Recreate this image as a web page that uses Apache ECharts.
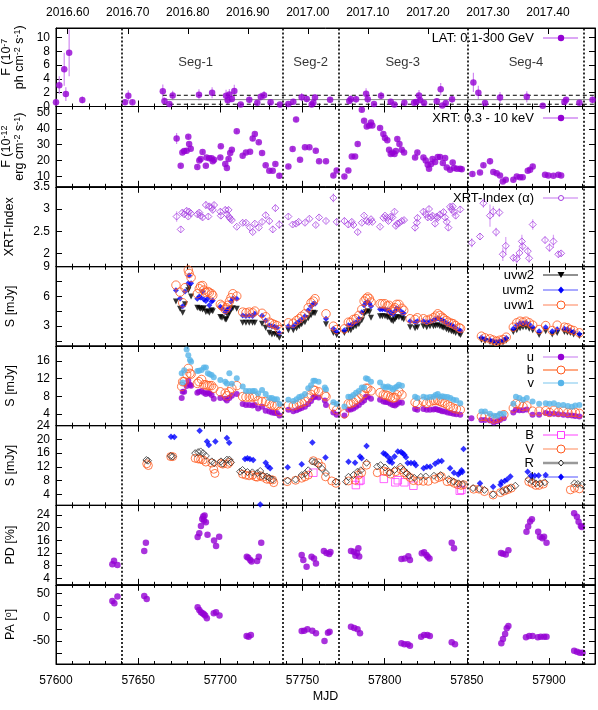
<!DOCTYPE html>
<html>
<head>
<meta charset="utf-8">
<script src="https://cdn.jsdelivr.net/npm/echarts@6/dist/echarts.min.js"></script>
<style>
  html, body { margin: 0; padding: 0; background: #fff; }
  #chart { width: 598px; height: 710px; }
</style>
</head>
<body>
<div id="chart"></div>
<script>
// ---- data ----
const xMin = 57600, xMax = 57928;
const segBounds = [57640, 57738, 57772, 57850.5, 57921];
const segNames = ['Seg-1', 'Seg-2', 'Seg-3', 'Seg-4'];
const segLabelMjd = [57685, 57755, 57811, 57886];
const yearTicks = [2016.6, 2016.7, 2016.8, 2016.9, 2017.0, 2017.1, 2017.2, 2017.3, 2017.4];

// LAT 0.1-300 GeV: [MJD, flux, err]
const latPoints = [
  [57600, 0.62, 0.5], [57602, 3.1, 1.3], [57605, 5.4, 2.4], [57606, 1.8, 1.0], [57608, 7.8, 3.4],
  [57616, 0.96, 0.5], [57642, 0.6, 0.4], [57644, 1.55, 0.8], [57646.5, 0.6, 0.3], [57665, 2.2, 1.0],
  [57666, 0.8, 0.5], [57669, 0.35, 0.2], [57671, 1.6, 0.7], [57687, 1.7, 0.8], [57695, 2.0, 0.8],
  [57703.5, 1.55, 0.9], [57704.5, 0.9, 0.6], [57705.5, 1.75, 0.8], [57707, 1.1, 0.5], [57708.5, 2.25, 0.9],
  [57712.4, 0.3, 0.2], [57717.6, 0.97, 0.5], [57722.5, 0.55, 0.3], [57724.6, 1.4, 0.6], [57726.6, 1.65, 0.6],
  [57730.6, 0.6, 0.3], [57736.3, 0.3, 0.2], [57741.4, 0.35, 0.2], [57744.4, 0.7, 0.4], [57749.5, 1.35, 0.6],
  [57752.6, 1.1, 0.5], [57755.6, 0.3, 0.2], [57756.6, 0.55, 0.3], [57757.6, 1.3, 0.5], [57766.8, 0.97, 0.4],
  [57778.5, 0.8, 0.4], [57779.4, 1.1, 0.5], [57782.6, 1.05, 0.5], [57788.7, 1.85, 0.8], [57789.7, 1.05, 0.5],
  [57793.5, 0.35, 0.2], [57797.8, 1.55, 0.6], [57803.7, 0.7, 0.4], [57805.9, 0.3, 0.2], [57812, 0.55, 0.3],
  [57817.9, 0.55, 0.3], [57819.1, 0.65, 0.3], [57820.9, 1.6, 0.8], [57821.6, 0.9, 0.4], [57824, 0.5, 0.3],
  [57831.7, 0.75, 0.4], [57834.1, 2.5, 0.9], [57835.1, 0.15, 0.2], [57837.2, 0.5, 0.3], [57841, 1.05, 0.5],
  [57854, 3.5, 1.4], [57857, 2.0, 1.0], [57861.1, 0.5, 0.3], [57870.2, 1.3, 0.8], [57886.5, 1.4, 0.8],
  [57896.2, 0.1, 0.2], [57909.4, 0.65, 0.3], [57910.4, 0.97, 0.4], [57918.5, 0.55, 0.3], [57926.5, 0.97, 0.5]
];
// LAT mean and +-1 sigma lines
const latLevels = [1.63, 1.0, 0.33];
const latLevelsFrom = 57665;

// XRT 0.3-10 keV flux: [MJD, flux, err]
const xrtFlux = [
  [57673.4, 33.9, 3.5], [57675.9, 16.8, 1], [57676.9, 25.1, 1], [57678, 26.0, 1], [57679.5, 26.2, 1],
  [57680.5, 35.0, 1.2], [57681, 30.4, 1.2], [57682, 27.5, 1], [57686, 15.9, 0.8], [57687.2, 20.1, 0.8],
  [57688, 21.0, 0.8], [57689.2, 25.4, 1], [57691.2, 16.8, 0.8], [57691.6, 22.0, 0.8], [57693.3, 21.4, 0.8],
  [57694.7, 21.4, 0.8], [57695.4, 19.5, 0.8], [57696.2, 20.5, 0.8], [57700, 22.0, 0.8], [57700.3, 29.0, 1],
  [57703, 17.8, 0.8], [57704, 15.3, 0.8], [57705, 21.0, 0.8], [57706, 24.8, 1], [57707, 26.8, 1],
  [57710, 38.4, 1.2], [57713.6, 23.0, 1], [57715.6, 25.1, 1], [57718.1, 25.6, 1], [57719.7, 33.8, 1.5],
  [57721, 36.7, 1.2], [57723.4, 31.5, 1], [57725.4, 24.8, 1], [57727.6, 17.0, 0.8], [57729.8, 13.6, 0.8],
  [57731.9, 13.6, 0.8], [57733.5, 17.8, 0.8], [57735.9, 10.4, 1.5], [57741.4, 16.3, 0.8], [57744, 27.3, 1],
  [57746.1, 45.8, 1.5], [57748.5, 20.5, 0.8], [57751.5, 28.3, 1], [57754.2, 28.3, 1], [57758.1, 26.2, 1],
  [57760.1, 19.5, 0.8], [57764.3, 19.5, 0.8], [57768.8, 10.6, 0.8], [57770.8, 13.8, 1], [57775.5, 10.0, 0.8],
  [57777.9, 13.8, 0.8], [57780, 22.6, 1], [57782, 22.6, 1], [57783.6, 30.4, 1], [57786.1, 52.0, 1.5],
  [57787.5, 45.1, 1.2], [57789.1, 41.5, 1.2], [57790.7, 42.0, 1.2], [57791.7, 44.0, 1.2], [57792.5, 42.0, 1.2],
  [57797.2, 40.5, 1.2], [57799.2, 36.7, 1.2], [57800.2, 34.2, 1], [57801.6, 32.7, 1], [57802.7, 26.8, 1],
  [57803.7, 24.1, 0.8], [57804.7, 24.9, 0.8], [57806, 24.1, 0.8], [57806.8, 26.0, 0.8], [57807.7, 33.6, 1],
  [57809, 30.4, 1], [57810.4, 26.8, 1], [57811.8, 25.0, 0.8], [57818.5, 22.0, 1], [57819.9, 25.1, 1],
  [57823.6, 22.0, 0.8], [57825, 20.0, 0.8], [57826.2, 17.4, 0.8], [57827, 14.9, 0.8], [57828.3, 17.8, 0.8],
  [57829.1, 21.0, 0.8], [57830.7, 19.1, 0.8], [57832.3, 22.2, 0.8], [57833.7, 22.2, 0.8], [57835.4, 18.5, 0.8],
  [57836.8, 21.6, 0.8], [57837.8, 15.7, 0.8], [57839.8, 14.2, 0.8], [57841.4, 18.8, 0.8], [57842.2, 15.3, 0.8],
  [57843.9, 14.9, 0.8], [57845.9, 14.9, 0.8], [57846.9, 14.6, 0.8], [57853.4, 11.5, 1], [57858, 12.5, 1],
  [57860.1, 17.0, 1.2], [57864.1, 19.5, 2.0], [57866.1, 12.8, 0.8], [57868.2, 12.1, 0.8], [57870.2, 10.6, 0.8],
  [57871.9, 6.8, 0.8], [57873.7, 7.9, 0.8], [57878.3, 7.9, 0.8], [57880.4, 10.0, 0.8], [57882.4, 9.5, 0.8],
  [57884, 9.5, 0.8], [57887.1, 13.6, 1], [57888.5, 14.2, 1], [57890.1, 16.3, 1.5], [57897.6, 11.1, 0.8],
  [57899.6, 10.6, 0.8], [57902.7, 10.4, 0.8], [57905.7, 11.1, 0.8], [57907.4, 10.6, 0.8]
];

// XRT photon index: [MJD, alpha, err]
const xrtIndex = [
  [57673.4, 2.83, 0.12], [57675.9, 2.54, 0.07], [57676.9, 2.92, 0.06], [57678, 2.88, 0.06], [57679.5, 2.96, 0.06],
  [57680.5, 2.83, 0.05], [57681, 2.94, 0.05], [57682, 2.9, 0.05], [57686, 2.88, 0.06], [57687.2, 2.92, 0.06],
  [57688, 2.85, 0.06], [57689.2, 2.81, 0.06], [57691.2, 3.09, 0.09], [57692.7, 2.83, 0.07], [57693.3, 3.06, 0.07],
  [57694.7, 3.03, 0.06], [57695.4, 2.98, 0.06], [57696.2, 3.09, 0.06], [57700, 2.94, 0.07], [57700.3, 2.85, 0.07],
  [57703, 2.98, 0.07], [57704, 2.88, 0.08], [57705, 2.98, 0.06], [57705.4, 2.82, 0.06], [57706, 2.78, 0.05],
  [57707, 2.75, 0.05], [57710, 2.6, 0.04], [57713.6, 2.69, 0.05], [57715.6, 2.69, 0.05], [57718.1, 2.58, 0.05],
  [57719.7, 2.48, 0.05], [57721, 2.67, 0.05], [57723.4, 2.58, 0.05], [57725.4, 2.71, 0.06], [57727.6, 2.86, 0.07],
  [57729.8, 2.73, 0.08], [57731.9, 2.54, 0.08], [57733.5, 3.02, 0.08], [57735.9, 2.65, 0.1], [57741.4, 2.83, 0.07],
  [57744, 2.65, 0.05], [57746.1, 2.67, 0.04], [57747.7, 2.71, 0.05], [57751.5, 2.69, 0.05], [57754.2, 2.78, 0.05],
  [57758.1, 2.64, 0.05], [57760.1, 2.81, 0.05], [57764.3, 2.73, 0.05], [57768.8, 3.25, 0.1], [57770.8, 2.71, 0.08],
  [57775.5, 2.73, 0.08], [57777.9, 2.65, 0.07], [57780, 2.71, 0.06], [57781, 2.64, 0.06], [57783.6, 2.48, 0.06],
  [57786.1, 2.69, 0.04], [57787.5, 2.85, 0.04], [57789.1, 2.73, 0.04], [57790.3, 2.71, 0.04], [57791.7, 2.77, 0.04],
  [57792.5, 2.71, 0.04], [57797.2, 2.6, 0.04], [57799.2, 2.8, 0.04], [57800.2, 2.85, 0.04], [57801.6, 2.8, 0.05],
  [57802.3, 2.73, 0.05], [57803.7, 2.83, 0.05], [57804.7, 2.81, 0.05], [57806, 2.94, 0.05], [57806.8, 2.62, 0.06],
  [57807.7, 2.67, 0.05], [57809, 2.69, 0.05], [57810.4, 2.73, 0.05], [57811.8, 2.75, 0.05], [57818.5, 2.58, 0.08],
  [57819.6, 2.69, 0.06], [57820, 2.8, 0.06], [57823.6, 2.94, 0.07], [57825, 2.88, 0.07], [57826.2, 2.81, 0.07],
  [57827, 3.0, 0.07], [57828.3, 2.81, 0.06], [57829.1, 2.85, 0.06], [57830.7, 2.67, 0.06], [57831.7, 2.83, 0.06],
  [57832.3, 2.8, 0.06], [57833.7, 2.88, 0.06], [57835.8, 2.93, 0.06], [57836.8, 2.81, 0.06], [57837.8, 2.71, 0.06],
  [57838.8, 2.58, 0.07], [57839.8, 3.05, 0.07], [57840.8, 2.99, 0.07], [57841.4, 3.06, 0.07], [57842.2, 2.93, 0.07],
  [57843.2, 2.85, 0.07], [57846, 2.99, 0.08], [57853, 2.24, 0.1], [57858, 2.38, 0.08], [57860.1, 3.13, 0.1],
  [57864.1, 2.85, 0.25], [57866.1, 2.94, 0.12], [57867.8, 2.48, 0.1], [57869.8, 2.92, 0.1], [57871.9, 1.98, 0.15],
  [57873.7, 2.17, 0.2], [57878.3, 1.9, 0.08], [57880.4, 1.88, 0.1], [57882, 2.01, 0.12], [57883.5, 2.27, 0.15],
  [57884, 2.16, 0.1], [57887.1, 2.05, 0.1], [57887.9, 1.89, 0.1], [57890.1, 2.65, 0.12], [57897.6, 2.3, 0.08],
  [57900.3, 2.13, 0.1], [57902.7, 2.27, 0.15], [57905.7, 1.98, 0.07], [57907.4, 2.0, 0.06]
];

// UVOT UV bands: [MJD, uvw2, uvm2, uvw1] (mJy)
const uvotUV = [
  [57673, 5.5, 6.63, 7.14], [57675.5, 4.76, 5.8, 6.43], [57677.1, 4.35, 5.0, 5.36], [57678.5, 5.2, 6.5, 6.88],
  [57680.5, 6.63, 7.33, 8.66], [57681, 6.9, 8.1, 8.32], [57682.2, 6.0, 7.33, 7.9], [57686, 4.86, 5.77, 6.27],
  [57687.2, 4.8, 6.0, 6.78], [57688, 4.76, 5.9, 7.04], [57689.2, 4.69, 6.5, 7.1], [57690, 4.8, 5.7, 6.64],
  [57691.2, 4.42, 5.53, 6.4], [57692.4, 4.5, 5.8, 6.5], [57693.3, 4.35, 5.1, 6.4], [57694.7, 4.6, 5.5, 6.27],
  [57695.4, 4.5, 5.6, 6.1], [57700, 3.92, 4.97, 5.2], [57701, 3.85, 4.8, 5.03], [57703, 3.68, 4.42, 4.69],
  [57703.7, 3.7, 4.6, 4.86], [57704.5, 4.08, 4.7, 5.1], [57705.5, 4.3, 4.77, 5.5], [57706.5, 4.69, 5.5, 5.87],
  [57707.6, 4.8, 5.8, 6.27], [57710, 4.76, 5.77, 6.03], [57713.6, 3.34, 4.08, 4.42], [57715.6, 3.34, 4.02, 4.35],
  [57717.6, 3.34, 4.05, 4.42], [57719.6, 3.34, 4.02, 4.35], [57721, 3.34, 4.25, 4.52], [57725.4, 3.24, 4.05, 4.3],
  [57727.6, 2.84, 3.57, 3.95], [57729.8, 2.33, 3.06, 3.4], [57731.4, 2.16, 3.0, 3.27], [57733, 2.2, 2.95, 3.16],
  [57734.5, 2.1, 2.85, 3.06], [57735.9, 1.82, 2.3, 2.66],
  [57741.4, 2.6, 3.0, 3.34], [57744.4, 2.6, 3.0, 3.3], [57746.4, 2.8, 3.3, 3.57], [57748, 3.0, 3.5, 3.75],
  [57749.5, 3.2, 3.7, 4.0], [57751.5, 3.4, 4.0, 4.25], [57753.5, 3.8, 4.6, 4.86], [57755.2, 4.1, 5.0, 5.36],
  [57756.6, 4.35, 5.25, 5.53], [57757.6, 4.3, 5.25, 5.77], [57764.3, 3.2, 3.75, 4.25], [57768.8, 2.3, 2.75, 3.0],
  [57770.8, 2.1, 2.45, 2.66],
  [57775.5, 2.3, 2.6, 2.73], [57777.9, 2.6, 3.1, 3.4], [57779.4, 2.6, 3.1, 3.4], [57781, 2.9, 3.3, 3.68],
  [57782.6, 3.0, 3.4, 3.75], [57784.3, 3.2, 3.75, 4.08], [57786.1, 3.6, 4.4, 4.69], [57787.5, 4.2, 5.1, 5.53],
  [57788.6, 4.4, 5.4, 5.77], [57789.7, 4.5, 5.45, 5.94], [57790.7, 4.4, 5.3, 5.77], [57791.7, 3.85, 5.0, 5.43],
  [57797.2, 4.0, 4.7, 5.26], [57798.6, 4.0, 4.7, 5.26], [57800.2, 4.0, 4.7, 5.26], [57801.6, 3.9, 4.6, 5.03],
  [57802.7, 3.9, 4.6, 5.1], [57804, 3.6, 4.3, 4.52], [57805.2, 3.5, 4.2, 4.7], [57806.3, 3.7, 4.5, 4.86],
  [57807.3, 3.9, 4.8, 5.2], [57808.7, 3.9, 4.7, 5.2], [57810.5, 3.8, 4.4, 4.8], [57811.6, 3.7, 4.3, 4.6],
  [57815.5, 2.9, 3.5, 3.75], [57818.5, 2.8, 3.4, 3.68], [57819.9, 2.9, 3.5, 3.85], [57823.6, 3.0, 3.5, 3.75],
  [57825.6, 2.9, 3.4, 3.6], [57827.6, 3.0, 3.5, 3.7], [57829.7, 3.0, 3.6, 3.85], [57831, 3.05, 3.7, 4.02],
  [57832.3, 3.1, 3.8, 4.25], [57833.6, 3.0, 3.7, 4.08], [57835, 2.9, 3.6, 3.9], [57836, 2.85, 3.5, 3.75],
  [57837.6, 2.7, 3.3, 3.57], [57839, 2.6, 3.2, 3.4], [57840.6, 2.5, 3.1, 3.3], [57841.8, 2.45, 3.0, 3.24],
  [57843.2, 2.3, 2.85, 3.06], [57845.3, 2.2, 2.6, 2.84], [57846.2, 2.1, 2.55, 2.77],
  [57858.9, 1.6, 1.85, 1.99], [57861.1, 1.5, 1.7, 1.82], [57864.1, 1.4, 1.6, 1.72], [57866, 1.3, 1.5, 1.6],
  [57868, 1.25, 1.4, 1.48], [57870, 1.3, 1.5, 1.58], [57872, 1.35, 1.55, 1.65], [57874, 1.55, 1.8, 1.89],
  [57878.3, 2.4, 2.75, 2.9], [57880.4, 2.6, 3.1, 3.34], [57882.4, 2.8, 3.3, 3.5], [57884.2, 2.9, 3.3, 3.4],
  [57886, 2.9, 3.35, 3.5], [57888, 2.75, 3.2, 3.34], [57890.1, 2.6, 2.9, 3.1], [57894, 2.1, 2.5, 2.66],
  [57898, 2.5, 2.9, 3.06], [57902, 2.15, 2.5, 2.56], [57905, 2.3, 2.7, 3.1], [57909.4, 2.4, 2.75, 2.9],
  [57911.2, 2.35, 2.7, 2.84], [57913, 2.3, 2.55, 2.66], [57915, 2.15, 2.4, 2.56], [57918.5, 2.0, 2.2, 2.33]
];

// UVOT optical bands: [MJD, u, b, v] (mJy)
const uvotOpt = [
  [57676.5, 7.6, 10.2, 13.2], [57677.1, 9.0, 11.3, 11.1], [57678, 9.0, 11.3, 13.9], [57679.5, 10.3, 13.0, 18.6],
  [57680.5, 11.5, 14.3, 17.3], [57681.5, 10.6, 13.2, 16.2], [57682.2, 10.4, 13.0, 15.8], [57686, 8.8, 10.9, 13.7],
  [57687, 9.0, 11.3, 13.8], [57688.6, 9.2, 11.8, 13.95], [57690, 8.8, 10.6, 14.5], [57691.2, 8.5, 10.6, 14.5],
  [57692.4, 8.8, 10.4, 13.2], [57693.5, 8.6, 10.4, 13.0], [57694.7, 8.3, 10.4, 12.8], [57696, 7.4, 9.8, 12.3],
  [57700, 7.6, 9.0, 11.7], [57703, 7.4, 8.7, 11.3], [57704, 7.0, 8.1, 10.9], [57705.5, 7.6, 9.0, 13.2],
  [57707, 8.1, 9.8, 10.8], [57710, 8.5, 10.4, 12.1], [57713.6, 6.2, 7.9, 10.2], [57715.6, 6.0, 7.8, 9.2],
  [57717.6, 6.0, 7.8, 9.2], [57719.6, 5.9, 7.8, 9.2], [57721, 6.0, 7.9, 9.2], [57723, 5.2, 7.0, 8.6],
  [57725.4, 5.6, 6.8, 9.4], [57727.6, 4.7, 6.8, 8.5], [57729.8, 4.5, 6.3, 7.6], [57731.4, 4.3, 6.0, 7.6],
  [57733, 4.2, 5.9, 7.3], [57734.5, 4.2, 5.9, 7.3], [57736, 3.6, 4.5, 6.2],
  [57741.4, 4.9, 5.9, 7.2], [57744.4, 4.6, 5.8, 6.9], [57746.4, 4.8, 6.0, 7.3], [57748, 5.1, 6.3, 7.8],
  [57749.5, 5.3, 6.5, 8.0], [57751.5, 5.6, 6.8, 8.5], [57753.5, 6.2, 7.6, 9.8], [57755.2, 6.9, 8.4, 10.5],
  [57756.6, 7.7, 9.4, 11.5], [57757.6, 7.9, 9.3, 11.5], [57759.8, 7.7, 9.0, 11.3], [57763.6, 7.0, 8.2, 9.95],
  [57764.3, 6.0, 7.9, 9.5], [57768.8, 4.3, 5.6, 6.6], [57770.8, 3.8, 4.9, 6.2],
  [57775.5, 3.6, 4.0, 5.65], [57777.9, 4.9, 6.3, 7.9], [57779.4, 5.0, 6.3, 7.9], [57781, 5.2, 6.6, 8.3],
  [57782.6, 5.6, 7.2, 8.8], [57784.3, 6.0, 7.6, 9.2], [57786.1, 6.6, 8.3, 9.95], [57787.5, 7.0, 8.6, 10.0],
  [57788.6, 7.9, 9.8, 12.1], [57789.7, 7.9, 9.8, 11.9], [57791.7, 7.4, 9.2, 11.3], [57797.2, 7.2, 8.8, 11.1],
  [57799.2, 6.8, 8.3, 10.2], [57800.6, 6.7, 8.3, 9.95], [57802, 6.6, 8.1, 10.2], [57803.5, 6.3, 7.8, 9.9],
  [57805, 6.0, 7.6, 9.5], [57806.3, 5.9, 7.7, 9.9], [57807.5, 6.2, 8.3, 10.2], [57808.7, 6.6, 9.0, 10.6],
  [57810.5, 6.5, 8.3, 10.4], [57818.5, 5.1, 6.6, 7.9], [57819.9, 4.9, 6.2, 7.6], [57823.6, 5.1, 6.8, 7.9],
  [57825.6, 4.9, 6.4, 7.7], [57827.6, 4.9, 6.7, 7.8], [57829.7, 5.0, 7.0, 7.9], [57831, 5.1, 7.0, 8.3],
  [57832.3, 4.9, 7.1, 8.5], [57833.6, 4.8, 6.8, 7.9], [57835, 4.6, 6.6, 8.0], [57836.6, 4.5, 6.4, 7.9],
  [57838.3, 4.3, 6.0, 7.8], [57840, 4.2, 5.65, 7.6], [57841.8, 4.0, 5.3, 7.2], [57843.6, 3.9, 5.1, 7.1],
  [57846, 3.8, 4.9, 6.4],
  [57852.8, 3.0, null, null], [57858.9, 2.6, 3.4, 4.5], [57861.1, 2.6, 3.4, 4.5], [57864.1, 2.5, 3.0, 4.0],
  [57866.4, 2.0, 2.8, 3.55], [57868.5, 2.3, 3.0, 3.55], [57870.2, 2.6, 3.3, 4.0], [57872.5, 3.0, 3.8, 4.0],
  [57878.3, 4.3, 5.3, 6.3], [57879.9, 4.9, 6.3, 7.9], [57882, 4.8, 6.2, 7.6], [57884.2, 4.8, 5.65, 7.2],
  [57886.5, 5.0, 5.8, 7.6], [57890, 3.8, 4.6, 6.8], [57894, 3.8, 4.6, 6.3], [57898, 4.2, 4.7, 6.4],
  [57900.3, 4.0, 4.3, 6.3], [57903, 4.0, 4.8, 6.4], [57905.7, 3.9, 4.4, 6.0], [57908.7, 3.8, 4.6, 6.0],
  [57911.5, 3.7, 4.3, 5.8], [57914, 3.6, 4.3, 5.6], [57916, 3.5, 4.3, 5.9], [57918.5, 3.4, 4.1, 6.0]
];

// ground based B, V, R, I: [MJD, mJy]
const bandB = [
  [57756.6, 10.3], [57782.5, 6.7], [57784.5, 7.9], [57785.3, 8.1], [57799.5, 8.5], [57806.5, 7.5],
  [57808, 8.1], [57812, 7.5], [57817.5, 6.5], [57845.7, 5.05], [57846.7, 5.3]
];
const bandV = [
  [57655.2, 12.9], [57656.2, 12.4], [57669.8, 15.0], [57671, 15.0], [57684.7, 14.5], [57686.5, 14.3],
  [57688, 14.2], [57689.5, 14.0], [57691.2, 13.4], [57694.8, 13.1], [57696, 11.3], [57696.7, 10.1],
  [57700.4, 13.1], [57701.5, 12.8], [57704.5, 12.8], [57705.5, 13.3], [57713.5, 9.9], [57715.5, 9.6],
  [57717.5, 9.4], [57719.5, 9.6], [57721.5, 9.1], [57722.5, 9.0], [57724.5, 9.4], [57726, 9.0],
  [57728.3, 8.4], [57730.3, 8.3], [57731.8, 8.2], [57732.5, 7.4], [57740.7, 7.7], [57745.8, 8.1],
  [57749.5, 8.7], [57751.5, 9.1], [57753.5, 9.6], [57756.6, 13.8], [57759.6, 13.2], [57761.6, 12.1],
  [57764, 9.1], [57767.8, 7.9], [57770.4, 7.2], [57778, 7.9], [57782, 8.1], [57784, 9.6],
  [57786, 10.3], [57789, 12.5], [57795.5, 10.3], [57799.5, 10.8], [57801.5, 10.5], [57803.5, 9.9],
  [57806.8, 10.6], [57810, 11.2], [57811.8, 10.3], [57813.5, 9.6], [57815.5, 8.9], [57817.5, 8.0],
  [57820.5, 7.9], [57823.5, 7.8], [57826.5, 7.8], [57830.5, 8.4], [57833, 8.9], [57834.5, 9.2],
  [57838, 7.7], [57840.5, 7.7], [57842.5, 7.2], [57844.5, 6.8], [57846.5, 6.6], [57848, 6.8],
  [57854.2, 5.5], [57857.5, 5.5], [57860.7, 4.8], [57866, 3.8], [57870.5, 4.5], [57873, 5.0],
  [57875, 5.4], [57877, 5.8], [57887.7, 7.7], [57889.7, 7.2], [57892, 6.6], [57894, 6.6],
  [57896.6, 7.0], [57913, 5.3], [57915.5, 5.8], [57918.5, 5.6]
];
const bandR = [
  [57655, 14.0], [57656, 13.8], [57669.8, 15.2], [57671, 15.0], [57684.7, 16.0], [57686.5, 16.3],
  [57688, 16.5], [57689.5, 16.0], [57691.2, 15.2], [57694.8, 13.6], [57696.3, 13.1], [57700.4, 13.6],
  [57701.5, 12.9], [57704, 14.1], [57705.5, 14.1], [57706.5, 13.3], [57712, 10.6], [57713.5, 11.1],
  [57716.5, 10.5], [57719.5, 10.4], [57722.5, 10.2], [57724.3, 10.8], [57726, 9.4], [57728.3, 9.2],
  [57729.8, 8.8], [57731.8, 8.3], [57741, 8.0], [57745.8, 8.3], [57749.5, 9.6], [57751.5, 10.0],
  [57753.5, 11.0], [57756, 13.6], [57757.6, 13.4], [57759.6, 12.6], [57762, 11.4], [57764.3, 10.2],
  [57770.4, 7.7], [57776.5, 7.7], [57778, 9.1], [57781, 9.6], [57783.5, 10.6], [57785.5, 11.0],
  [57789, 13.2], [57795.5, 12.1], [57797.5, 12.5], [57800.2, 11.8], [57803, 10.3], [57806, 11.1],
  [57809.5, 12.1], [57811.5, 11.1], [57813.5, 10.1], [57815, 9.4], [57818, 8.8], [57822, 9.1],
  [57825, 9.2], [57830, 9.4], [57834, 9.6], [57839, 8.4], [57842, 7.7], [57845, 7.2],
  [57847.6, 7.0], [57853.8, 5.8], [57857.5, 5.6], [57860.7, 5.3], [57866, 4.0], [57871.5, 4.9],
  [57874, 5.3], [57876.5, 5.8], [57879.5, 6.5], [57887.7, 8.4], [57889.7, 7.9], [57892, 7.2],
  [57894.5, 7.2], [57897.5, 7.5], [57915.5, 7.2], [57917.5, 7.0], [57920, 6.8]
];
const bandI = [
  [57670, 20.8], [57672, 20.7], [57687.4, 22.5], [57691.9, 19.4], [57693, 18.4], [57697, 19.4],
  [57704, 20.4], [57705.4, 19.0], [57715, 14.3], [57716.5, 14.5], [57718, 14.3], [57720, 14.0],
  [57724.3, 1.0], [57727.6, 13.2], [57728.8, 12.2], [57730.3, 11.6], [57741, 11.9], [57749.5, 12.8],
  [57756, 19.1], [57764, 14.7], [57778, 13.5], [57782, 13.2], [57785, 15.0], [57786, 14.5],
  [57789, 18.1], [57799.3, 16.0], [57800.5, 15.7], [57801.8, 15.0], [57802.8, 13.6], [57803.6, 14.2],
  [57804.5, 13.2], [57806, 15.0], [57808, 16.5], [57810, 16.3], [57811, 16.0], [57812, 15.5],
  [57813, 14.8], [57814, 13.1], [57816, 13.1], [57818, 13.1], [57819, 12.5], [57823.7, 11.6],
  [57825.7, 12.0], [57827.7, 12.0], [57830.7, 12.9], [57832.7, 13.6], [57834.7, 13.7], [57839.8, 11.6],
  [57842.2, 10.3], [57844.8, 9.8], [57845.8, 10.3], [57846.8, 11.0], [57847.3, 10.5], [57848, 17.2],
  [57858, 7.2], [57866, 6.2], [57870.5, 6.8], [57871, 7.6], [57873, 7.9], [57874.5, 8.3],
  [57876.5, 9.2], [57887, 10.6], [57889, 9.4], [57891.3, 9.4], [57893.7, 9.5], [57898, 9.6]
];

// optical polarization: degree [%] and angle [deg]
const polPD = [
  [57634.3, 8.5], [57635.3, 9.6], [57637.4, 8.2], [57653.7, 12.6], [57654.7, 15.2], [57686.2, 17.0],
  [57687.2, 18.2], [57688.2, 20.5], [57689, 22.7], [57689.6, 23.5], [57690, 22.2], [57690.4, 23.8],
  [57691.2, 21.7], [57692.2, 17.7], [57696.2, 15.9], [57697.4, 14.2], [57699.3, 17.1], [57716.1, 10.8],
  [57717, 10.5], [57718.2, 9.8], [57719, 9.3], [57722.4, 9.5], [57723.4, 10.8], [57724.9, 15.2],
  [57749.5, 11.4], [57750.5, 9.8], [57752.5, 7.7], [57755.5, 10.8], [57757, 10.3], [57758.2, 8.7],
  [57763, 12.6], [57764.6, 12.0], [57766.3, 11.7], [57767, 12.3], [57779.5, 12.6], [57781.2, 12.4],
  [57782.2, 11.1], [57783.2, 12.0], [57784, 13.5], [57784.5, 10.9], [57810.2, 10.1], [57812.2, 10.3],
  [57814.4, 11.0], [57815.4, 9.8], [57822.6, 11.9], [57824, 12.2], [57825.4, 11.4], [57826.2, 10.8],
  [57827.3, 10.3], [57840.8, 15.2], [57842.2, 13.5], [57870.8, 12.0], [57872, 11.8], [57873.7, 11.5],
  [57875.3, 12.9], [57886.3, 18.7], [57887.3, 20.3], [57888.5, 21.9], [57889.6, 22.6], [57893.4, 18.7],
  [57894.5, 17.1], [57896, 16.6], [57897, 17.1], [57898.5, 15.2], [57915.3, 24.5], [57917, 23.4],
  [57918, 21.8], [57919.4, 20.5], [57920, 20.2]
];
const polPA = [
  [57634.3, 34.2], [57635.5, 29.4], [57637.4, 43.3], [57653.7, 44.7], [57655.2, 38.4], [57686.2, 21.0],
  [57687.2, 15.3], [57688.2, 10.5], [57689.2, 8.4], [57690, 6.3], [57690.8, 3.4], [57691.8, -2.1],
  [57696, 8.4], [57697.4, 10.5], [57699.5, 3.4], [57716, -39.3], [57717.2, -40.7], [57718.6, -37.2],
  [57749.5, -28.8], [57751, -28.1], [57753, -25.2], [57756, -28.1], [57758.2, -33.6], [57763.4, -49.8],
  [57765.5, -32.4], [57766.5, -30.5], [57779.5, -19.7], [57781.5, -22.6], [57783.5, -25.2], [57785, -33.6],
  [57810.2, -54.6], [57812, -56.7], [57814, -56.7], [57815.4, -59.6], [57822.2, -40.7], [57824, -37.2],
  [57826, -37.2], [57827.5, -39.3], [57840.8, -52.5], [57842.8, -56.7], [57871, -54.6], [57872, -45.6],
  [57873.3, -35.1], [57874.3, -23.1], [57875.3, -18.3], [57886, -42.0], [57888, -39.3], [57890, -39.3],
  [57893.2, -42.0], [57895, -40.7], [57897, -40.7], [57898.5, -40.7], [57915.3, -70.2], [57917, -72.3],
  [57918.7, -74.4], [57920.4, -74.4]
];

// ---- layout of the eight stacked panels ----
const FONT = 'Liberation Sans, Arial, sans-serif';
const panels = [
  { top: 28, bottom: 106.5, min: 0, max: 11.4, ticks: [0, 2, 4, 6, 8, 10], labels: [0, 2, 4, 6, 8, 10],
    name: '{n|F (10}{s|-7}\n{n|ph cm}{s|-2}{n| s}{s|-1}{n|)}', gap: 29, pad: [0, 0, 0, 20] },
  { top: 106.5, bottom: 186.8, min: 3.5, max: 54, ticks: [10, 20, 30, 40, 50], labels: [10, 20, 30, 40, 50],
    name: '{n|F (10}{s|-12}\n{n|erg cm}{s|-2}{n| s}{s|-1}{n|)}', gap: 29, pad: 0 },
  { top: 186.8, bottom: 266.7, min: 1.7, max: 3.5, ticks: [2, 2.5, 3, 3.5], labels: [2, 2.5, 3, 3.5],
    name: '{n|XRT-Index}', gap: 40, pad: 0 },
  { top: 266.7, bottom: 346, min: 1, max: 9, ticks: [1.5, 3, 4.5, 6, 7.5, 9], labels: [3, 6, 9],
    name: '{n|S [mJy]}', gap: 39, pad: 0 },
  { top: 346, bottom: 425.7, min: 1.3, max: 19.4, ticks: [4, 8, 12, 16], labels: [4, 8, 12, 16],
    name: '{n|S [mJy]}', gap: 39, pad: 0 },
  { top: 425.7, bottom: 505.3, min: 0.8, max: 24, ticks: [4, 8, 12, 16, 20, 24], labels: [4, 8, 12, 16, 20, 24],
    name: '{n|S [mJy]}', gap: 39, pad: 0 },
  { top: 505.3, bottom: 584.8, min: 2, max: 27, ticks: [4, 8, 12, 16, 20, 24], labels: [4, 8, 12, 16, 20, 24],
    name: '{n|PD [%]}', gap: 39, pad: 0 },
  { top: 584.8, bottom: 664, min: -98, max: 68, ticks: [-75, -50, -25, 0, 25, 50], labels: [-50, 0, 50],
    name: '{n|PA [}{s|o}{n|]}', gap: 39, pad: 0 }
];

const mjdOfYear = y => 57388 + (y - 2016) * 365.25;
const yearMjd = yearTicks.map(mjdOfYear);

const grid = [], xAxis = [], yAxis = [];
const nameRich = {
  n: { fontSize: 12.5, fontFamily: FONT, color: '#000', lineHeight: 13, verticalAlign: 'bottom' },
  s: { fontSize: 9, fontFamily: FONT, color: '#000', verticalAlign: 'top', lineHeight: 13 }
};
panels.forEach((p, i) => {
  grid.push({ left: 56, width: 539, top: p.top, height: p.bottom - p.top,
    outerBoundsMode: 'none', containLabel: false,
    show: true, borderColor: '#000', borderWidth: 1, backgroundColor: 'transparent' });
  const last = i === panels.length - 1;
  xAxis.push({
    type: 'value', gridIndex: i, position: 'bottom', min: xMin, max: xMax, interval: 50,
    axisLine: { show: true, onZero: false, lineStyle: { color: '#000', width: 1 } },
    axisTick: { inside: true, length: 6, lineStyle: { color: '#000' } },
    minorTick: { show: true, splitNumber: 5, length: 3, lineStyle: { color: '#000' } },
    axisLabel: { show: last, showMaxLabel: false, margin: 11, fontSize: 12, color: '#000', fontFamily: FONT,
      formatter: v => String(v) },
    splitLine: { show: false },
    name: last ? 'MJD' : '', nameLocation: 'middle', nameGap: 26,
    nameTextStyle: { fontSize: 12.5, color: '#000', fontFamily: FONT }
  });
  if (i === 0) {
    xAxis.push({
      type: 'value', gridIndex: i, position: 'top', min: xMin, max: xMax,
      axisLine: { show: true, onZero: false, lineStyle: { color: '#000' } },
      axisTick: { inside: true, length: 6, customValues: yearMjd, lineStyle: { color: '#000' } },
      axisLabel: { customValues: yearMjd, margin: 9, fontSize: 12, color: '#000', fontFamily: FONT,
        formatter: v => (2016 + (v - 57388) / 365.25).toFixed(2) },
      splitLine: { show: false }
    });
  } else {
    xAxis.push({
      type: 'value', gridIndex: i, position: 'top', min: xMin, max: xMax, interval: 50,
      axisLine: { show: true, onZero: false, lineStyle: { color: '#000' } },
      axisTick: { inside: true, length: 6, lineStyle: { color: '#000' } },
      minorTick: { show: true, splitNumber: 5, length: 3, lineStyle: { color: '#000' } },
      axisLabel: { show: false }, splitLine: { show: false }
    });
  }
  yAxis.push({
    type: 'value', gridIndex: i, position: 'left', min: p.min, max: p.max,
    axisLine: { show: true, onZero: false, lineStyle: { color: '#000' } },
    axisTick: { inside: true, length: 6, customValues: p.ticks, lineStyle: { color: '#000' } },
    axisLabel: { customValues: p.labels, margin: 6, fontSize: 12, color: '#000', fontFamily: FONT },
    splitLine: { show: false },
    name: p.name, nameLocation: 'middle', nameGap: p.gap,
    nameTextStyle: { fontSize: 12.5, color: '#000', fontFamily: FONT, rich: nameRich, lineHeight: 13,
      padding: p.pad }
  });
  yAxis.push({
    type: 'value', gridIndex: i, position: 'right', min: p.min, max: p.max,
    axisLine: { show: true, onZero: false, lineStyle: { color: '#000' } },
    axisTick: { inside: true, length: 6, customValues: p.ticks, lineStyle: { color: '#000' } },
    axisLabel: { show: false }, splitLine: { show: false }
  });
});

// ---- series ----
const PURPLE = '#9400d3';
const series = [];
const on = i => ({ xAxisIndex: 2 * i, yAxisIndex: 2 * i });

function errorBars(i, rows, color) {
  series.push(Object.assign({
    type: 'custom', silent: true, clip: true, z: 1,
    data: rows.map(r => [r[0], r[1] - r[2], r[1] + r[2]]),
    renderItem: (params, api) => {
      const lo = api.coord([api.value(0), api.value(1)]);
      const hi = api.coord([api.value(0), api.value(2)]);
      return { type: 'line', shape: { x1: lo[0], y1: lo[1], x2: hi[0], y2: hi[1] },
        style: { stroke: color, lineWidth: 1.2 } };
    }
  }, on(i)));
}
function scatter(i, data, symbol, size, fill, stroke) {
  series.push(Object.assign({
    type: 'scatter', silent: true, clip: true, z: 3,
    data: data.filter(d => d[1] != null),
    symbol: symbol, symbolSize: size,
    symbolRotate: symbol === 'triangle' ? 180 : 0,
    itemStyle: stroke
      ? { color: 'rgba(255,255,255,0)', borderColor: stroke, borderWidth: 1 }
      : { color: fill, borderWidth: 0 }
  }, on(i)));
}
const col = (rows, k) => rows.map(r => [r[0], r[k]]);

// segment separators in every panel
panels.forEach((p, i) => {
  series.push(Object.assign({
    type: 'line', data: [], silent: true,
    markLine: { silent: true, symbol: ['none', 'none'], label: { show: false },
      lineStyle: { color: '#000', type: [2, 2], width: 1.6 },
      data: segBounds.map(x => ({ xAxis: x })) }
  }, on(i)));
});

// panel 1: LAT
latLevels.forEach((lv, k) => {
  series.push(Object.assign({
    type: 'line', silent: true, symbol: 'none', z: 2,
    data: [[latLevelsFrom, lv], [xMax, lv]],
    lineStyle: k === 1 ? { color: '#888', width: 1 } : { color: '#000', width: 1, type: [4, 3] }
  }, on(0)));
});
errorBars(0, latPoints, '#d18af2');
scatter(0, latPoints.map(r => [r[0], r[1]]), 'circle', 6.5, PURPLE);
series.push(Object.assign({
  type: 'scatter', silent: true, symbolSize: 0,
  data: segNames.map((n, k) => ({ name: n, value: [segLabelMjd[k], 6.35] })),
  label: { show: true, formatter: '{b}', position: 'inside', fontSize: 13, color: '#000', fontFamily: FONT }
}, on(0)));

// panel 2: XRT flux
errorBars(1, xrtFlux, '#d18af2');
scatter(1, xrtFlux.map(r => [r[0], r[1]]), 'circle', 6.5, PURPLE);

// panel 3: XRT index
errorBars(2, xrtIndex, '#d9a3f5');
scatter(2, xrtIndex.map(r => [r[0], r[1]]), 'diamond', 7, null, '#a43ee0');

// panel 4: UV bands
scatter(3, col(uvotUV, 1), 'triangle', 6, '#000');
scatter(3, col(uvotUV, 2), 'diamond', 6, '#0000ff');
scatter(3, col(uvotUV, 3), 'circle', 8.5, null, '#ff5a1f');

// panel 5: u, b, v
scatter(4, col(uvotOpt, 1), 'circle', 6, PURPLE);
scatter(4, col(uvotOpt, 2), 'circle', 8.5, null, '#ff5a1f');
scatter(4, col(uvotOpt, 3), 'circle', 6, '#56b4e9');

// panel 6: B, V, R, I
scatter(5, bandB, 'rect', 7.5, null, '#ff3cff');
scatter(5, bandV, 'circle', 8, null, '#ff5a1f');
scatter(5, bandR, 'diamond', 7, null, '#333');
scatter(5, bandI, 'diamond', 6.5, '#0000ff');

// panel 7, 8: polarization
scatter(6, polPD, 'circle', 6.5, PURPLE);
scatter(7, polPA, 'circle', 6.5, PURPLE);

// ---- keys drawn at the top right of each panel ----
const graphic = [];
function key(y, label, lineColor, lineWidth, sym, symColor) {
  graphic.push({ type: 'text', x: 534, y: y, silent: true,
    style: { text: label, font: '13px ' + FONT, fill: '#000', align: 'right', textAlign: 'right',
      verticalAlign: 'middle', textVerticalAlign: 'middle' } });
  graphic.push({ type: 'line', silent: true, shape: { x1: 543, y1: y, x2: 578, y2: y },
    style: { stroke: lineColor, lineWidth: lineWidth } });
  const cx = 561;
  if (sym === 'dot') graphic.push({ type: 'circle', silent: true, shape: { cx: cx, cy: y, r: 3.2 }, style: { fill: symColor } });
  if (sym === 'ring') graphic.push({ type: 'circle', silent: true, shape: { cx: cx, cy: y, r: 4 }, style: { fill: '#fff', stroke: symColor, lineWidth: 1 } });
  if (sym === 'smallring') graphic.push({ type: 'circle', silent: true, shape: { cx: cx, cy: y, r: 2.5 }, style: { fill: '#fff', stroke: symColor, lineWidth: 1 } });
  if (sym === 'tri') graphic.push({ type: 'polygon', silent: true, shape: { points: [[cx - 3.5, y - 3], [cx + 3.5, y - 3], [cx, y + 3]] }, style: { fill: symColor } });
  if (sym === 'dia') graphic.push({ type: 'polygon', silent: true, shape: { points: [[cx, y - 3.5], [cx + 3, y], [cx, y + 3.5], [cx - 3, y]] }, style: { fill: symColor } });
  if (sym === 'odia') graphic.push({ type: 'polygon', silent: true, shape: { points: [[cx, y - 3], [cx + 2.5, y], [cx, y + 3], [cx - 2.5, y]] }, style: { fill: '#fff', stroke: symColor, lineWidth: 1 } });
  if (sym === 'sq') graphic.push({ type: 'rect', silent: true, shape: { x: cx - 3.5, y: y - 3.5, width: 7, height: 7 }, style: { fill: '#fff', stroke: symColor, lineWidth: 1 } });
}
key(38, 'LAT: 0.1-300 GeV', '#d18af2', 1.5, 'dot', PURPLE);
key(118, 'XRT: 0.3 - 10 keV', '#d18af2', 1.5, 'dot', PURPLE);
key(198, 'XRT-Index (\u03b1)', '#d9a3f5', 1.5, 'smallring', '#a43ee0');
key(275, 'uvw2', '#222', 1.2, 'tri', '#000');
key(290, 'uvm2', '#8c8cff', 1.5, 'dia', '#0000ff');
key(305, 'uvw1', '#ffab8f', 1.5, 'ring', '#ff5a1f');
key(357, 'u', '#d9a3f5', 1.5, 'dot', PURPLE);
key(370, 'b', '#ff8c5a', 1.5, 'ring', '#ff5a1f');
key(383, 'v', '#a6d8f3', 1.5, 'dot', '#56b4e9');
key(435, 'B', '#ff80ff', 1.5, 'sq', '#ff3cff');
key(449, 'V', '#ffb090', 1.5, 'ring', '#ff5a1f');
key(463, 'R', '#999', 2.5, 'odia', '#222');
key(477, 'I', '#8c8cff', 1.5, 'dia', '#0000ff');

const chart = echarts.init(document.getElementById('chart'), null, { renderer: 'canvas' });
chart.setOption({
  animation: false,
  backgroundColor: '#fff',
  textStyle: { fontFamily: FONT, color: '#000' },
  grid: grid,
  xAxis: xAxis,
  yAxis: yAxis,
  series: series,
  graphic: graphic
});
</script>
</body>
</html>
